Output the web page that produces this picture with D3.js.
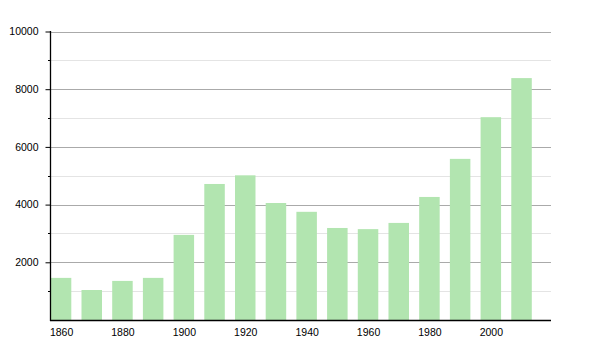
<!DOCTYPE html>
<html>
<head>
<meta charset="utf-8">
<script src="https://cdn.jsdelivr.net/npm/d3@7"></script>
<style>
body{margin:0;background:#fff;}
svg{display:block;}
text{font-family:"Liberation Sans",Arial,sans-serif;font-size:10px;fill:#000;}
</style>
</head>
<body>
<svg id="c" width="600" height="350"></svg>
<script>
const years = [1860,1870,1880,1890,1900,1910,1920,1930,1940,1950,1960,1970,1980,1990,2000,2010];
const population = [1460,1040,1355,1460,2950,4715,5015,4055,3750,3190,3150,3365,4265,5585,7030,8385];
const xTickLabels = [1860,1880,1900,1920,1940,1960,1980,2000];
const yMajorTicks = [2000,4000,6000,8000,10000];
const yMinorTicks = [1000,3000,5000,7000,9000];

(function () {
const svg = d3.select("#c");
const mLeft = 50, mRight = 551, mTop = 31.5, mBottom = 320;
const x = d3.scaleLinear().domain([1856.4, 2019.6]).range([mLeft, mRight]);
const y = d3.scaleLinear().domain([0, 10000]).range([mBottom, mTop]);
const barW = 20.5;

// minor gridlines
svg.append("g").selectAll("line").data(yMinorTicks).join("line")
  .attr("x1", mLeft).attr("x2", mRight)
  .attr("y1", d => Math.round(y(d)) + 0.5).attr("y2", d => Math.round(y(d)) + 0.5)
  .attr("stroke", "#e4e4e4").attr("stroke-width", 1);
// major gridlines
svg.append("g").selectAll("line").data(yMajorTicks).join("line")
  .attr("x1", mLeft).attr("x2", mRight)
  .attr("y1", d => Math.round(y(d)) + 0.5).attr("y2", d => Math.round(y(d)) + 0.5)
  .attr("stroke", "#aaaaaa").attr("stroke-width", 1);

// bars
svg.append("g").selectAll("rect").data(years).join("rect")
  .attr("x", d => x(d) - barW / 2)
  .attr("width", barW)
  .attr("y", (d, i) => y(population[i]))
  .attr("height", (d, i) => mBottom - y(population[i]))
  .attr("fill", "#b2e5b0");

// y axis
const yAxis = d3.axisLeft(y).tickValues(yMajorTicks).tickSize(5).tickPadding(7).tickFormat(d3.format("d"));
const gy = svg.append("g").attr("transform", `translate(${mLeft + 0.5},0)`).call(yAxis);
gy.select(".domain").remove();
gy.selectAll(".tick line").attr("stroke", "#000");
gy.selectAll(".tick text").style("font-family", "'Liberation Sans',Arial,sans-serif").style("font-size", "10.5px").attr("fill", "#000");
// minor ticks
svg.append("g").selectAll("line").data(yMinorTicks).join("line")
  .attr("x1", mLeft - 2).attr("x2", mLeft)
  .attr("y1", d => Math.round(y(d)) + 0.5).attr("y2", d => Math.round(y(d)) + 0.5)
  .attr("stroke", "#000");
svg.append("line").attr("x1", mLeft + 0.5).attr("x2", mLeft + 0.5).attr("y1", mTop - 0.5).attr("y2", mBottom + 1)
  .attr("stroke", "#000").attr("stroke-width", 1.3);

// x axis
const xAxis = d3.axisBottom(x).tickValues(xTickLabels).tickSize(0).tickPadding(8).tickFormat(d3.format("d"));
const gx = svg.append("g").attr("transform", `translate(0,${mBottom + 0.5})`).call(xAxis);
gx.select(".domain").remove();
gx.selectAll(".tick text").style("font-family", "'Liberation Sans',Arial,sans-serif").style("font-size", "10.5px").attr("fill", "#000");
svg.append("line").attr("x1", mLeft).attr("x2", mRight).attr("y1", mBottom + 0.5).attr("y2", mBottom + 0.5)
  .attr("stroke", "#000").attr("stroke-width", 1.3);
})();
</script>
</body>
</html>
